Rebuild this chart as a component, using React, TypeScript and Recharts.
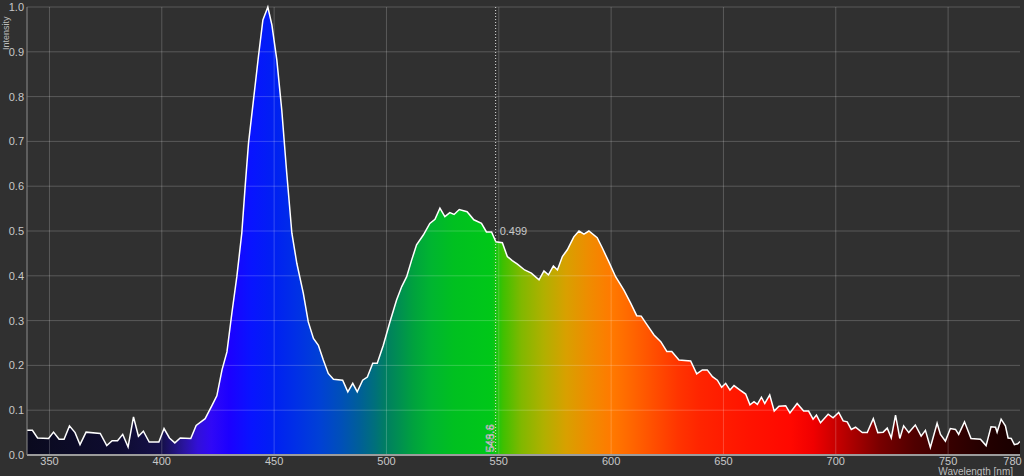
import React from "react";
import { AreaChart, Area, XAxis, YAxis, ReferenceLine, ReferenceDot } from "recharts";

const WAVELENGTHS = [
  340.0, 342.4, 344.7, 349.6, 351.8, 354.3, 356.5, 358.9, 361.4, 363.6, 366.3, 372.6, 375.5, 377.9, 380.3,
  382.6, 385.0, 387.4, 389.6, 391.8, 394.4, 398.7, 401.0, 403.4, 405.8, 408.2, 412.9, 415.3, 419.3, 422.3,
  424.5, 426.8, 429.0, 431.2, 433.4, 435.6, 437.1, 438.6, 440.8, 443.0, 445.0, 447.2, 449.0, 451.2, 453.4,
  455.6, 457.9, 460.1, 463.0, 465.2, 467.5, 469.7, 471.9, 474.1, 476.4, 480.5, 482.8, 485.0, 487.0, 489.4,
  491.5, 493.9, 495.9, 498.6, 501.6, 504.5, 506.8, 509.0, 511.2, 513.4, 516.4, 519.3, 521.6, 523.8, 526.0,
  528.2, 530.1, 532.4, 535.9, 538.9, 542.3, 544.5, 546.8, 548.7, 551.6, 553.8, 556.0, 558.3, 561.5, 564.5,
  567.9, 570.1, 572.1, 574.3, 576.1, 578.3, 580.5, 583.4, 585.7, 587.9, 590.1, 593.8, 596.1, 599.0, 602.0,
  605.7, 608.7, 611.4, 613.4, 616.1, 619.1, 622.1, 624.8, 627.0, 630.2, 635.4, 638.1, 640.6, 642.8, 645.1,
  647.3, 649.2, 651.0, 652.9, 654.7, 657.4, 659.9, 661.8, 663.6, 665.1, 666.9, 668.4, 670.6, 672.6, 674.7,
  677.7, 679.6, 682.8, 685.7, 687.9, 689.9, 691.4, 693.2, 696.6, 698.8, 701.3, 703.3, 705.1, 706.9, 708.8,
  711.8, 714.0, 716.7, 718.7, 721.1, 722.9, 724.7, 726.6, 728.5, 730.2, 732.5, 735.4, 738.0, 739.9, 742.1,
  745.1, 746.6, 748.8, 751.0, 753.3, 754.7, 757.3, 760.2, 764.4, 766.9, 769.1, 771.1, 771.8, 773.6, 775.5,
  776.7, 778.1, 779.5, 781.0, 782.0,
];

const INTENSITY = [
  0.055, 0.055, 0.038, 0.037, 0.051, 0.035, 0.035, 0.065, 0.05, 0.023, 0.051, 0.048, 0.021, 0.032, 0.032,
  0.046, 0.018, 0.085, 0.042, 0.053, 0.029, 0.029, 0.059, 0.038, 0.027, 0.038, 0.037, 0.066, 0.081, 0.11,
  0.132, 0.19, 0.23, 0.317, 0.398, 0.495, 0.599, 0.696, 0.792, 0.889, 0.971, 1.0, 0.96, 0.882, 0.77,
  0.63, 0.495, 0.428, 0.361, 0.297, 0.26, 0.245, 0.212, 0.182, 0.169, 0.167, 0.141, 0.16, 0.141, 0.167,
  0.174, 0.205, 0.205, 0.245, 0.298, 0.346, 0.376, 0.398, 0.435, 0.469, 0.491, 0.517, 0.526, 0.551, 0.532,
  0.541, 0.537, 0.548, 0.543, 0.525, 0.517, 0.498, 0.498, 0.476, 0.474, 0.443, 0.434, 0.426, 0.413, 0.406,
  0.391, 0.411, 0.402, 0.422, 0.413, 0.443, 0.458, 0.487, 0.5, 0.493, 0.5, 0.485, 0.462, 0.431, 0.398,
  0.368, 0.339, 0.311, 0.31, 0.29, 0.268, 0.253, 0.231, 0.231, 0.212, 0.21, 0.181, 0.19, 0.19, 0.175,
  0.167, 0.151, 0.16, 0.145, 0.155, 0.145, 0.136, 0.112, 0.119, 0.113, 0.129, 0.115, 0.134, 0.098, 0.109,
  0.11, 0.094, 0.115, 0.098, 0.098, 0.08, 0.089, 0.072, 0.091, 0.083, 0.095, 0.076, 0.074, 0.057, 0.062,
  0.05, 0.05, 0.081, 0.05, 0.051, 0.06, 0.038, 0.089, 0.037, 0.065, 0.05, 0.067, 0.042, 0.055, 0.017,
  0.071, 0.046, 0.031, 0.059, 0.057, 0.046, 0.074, 0.037, 0.035, 0.021, 0.063, 0.062, 0.051, 0.08, 0.065,
  0.038, 0.037, 0.023, 0.025, 0.03,
];

const X_TICKS = [350, 400, 450, 500, 550, 600, 650, 700, 750, 780];
const X_GRID = [350, 400, 450, 500, 550, 600, 650, 700, 750];
const Y_TICKS = [0, 0.1, 0.2, 0.3, 0.4, 0.5, 0.6, 0.7, 0.8, 0.9, 1.0];
const Y_GRID = [0.1, 0.2, 0.3, 0.4, 0.5, 0.6, 0.7, 0.8, 0.9, 1.0];

const MARKER_NM = 548.6;
const MARKER_VALUE = 0.499;

const X_MIN = 340;
const X_MAX = 782;

const SPECTRUM_STOPS: [number, string][] = [
  [340, "#0a0a1e"], [380, "#0e0c30"], [400, "#15104a"], [410, "#2a14a0"], [416, "#3210d8"],
  [422, "#3008f6"], [430, "#1c00ff"], [440, "#0814ff"], [450, "#0020f2"], [460, "#0030e6"],
  [470, "#0040d6"], [480, "#0050b8"], [488, "#005f98"], [495, "#00707a"], [500, "#007f60"],
  [506, "#009050"], [512, "#00a23e"], [520, "#00b530"], [530, "#00c020"], [547, "#00c818"],
  [552, "#40c000"], [560, "#80b800"], [570, "#b0b000"], [580, "#d8a000"], [590, "#ef8c00"],
  [600, "#ff7a00"], [610, "#ff6400"], [620, "#ff4c00"], [630, "#ff3400"], [640, "#ff2400"],
  [660, "#ff1400"], [680, "#ff0800"], [690, "#f00000"], [700, "#c80000"], [710, "#a00000"],
  [720, "#780000"], [735, "#500000"], [750, "#380000"], [765, "#250000"], [782, "#180000"],
];

const data = WAVELENGTHS.map((nm, i) => ({ nm, v: INTENSITY[i] }));

const FONT = '"Liberation Sans Narrow", "Arial Narrow", "Liberation Sans", Arial, sans-serif';
const GRID = "rgba(255,255,255,0.2)";

const XTick = (props: any) => {
  const { x, y, payload } = props;
  const last = payload.value === X_TICKS[X_TICKS.length - 1];
  return (
    <text
      x={last ? x - 3 : x}
      y={y}
      dy="0.71em"
      textAnchor="middle"
      fill="#c8c8c8"
      fontSize={11}
      fontFamily={FONT}
    >
      {payload.value}
    </text>
  );
};

const MarkerBottomLabel = (props: any) => {
  const vb = props.viewBox || {};
  const x = vb.x - 2;
  const y = vb.y + vb.height - 3;
  return (
    <text
      x={x}
      y={y}
      transform={`rotate(-90 ${x} ${y})`}
      textAnchor="start"
      fontFamily={FONT}
      fontSize={11}
      fill="#2e2e2e"
      stroke="#cfcfcf"
      strokeWidth={0.6}
    >
      {String(MARKER_NM)}
    </text>
  );
};

export default function App() {
  return (
    <div
      style={{
        position: "fixed",
        left: 0,
        top: 0,
        width: 1024,
        height: 476,
        background: "#303030",
        overflow: "hidden",
      }}
    >
      <AreaChart
        width={1024}
        height={476}
        data={data}
        margin={{ top: 7, right: 4, left: 0, bottom: 0 }}
      >
        <defs>
          <linearGradient id="spec" x1="0" y1="0" x2="1" y2="0">
            {SPECTRUM_STOPS.map(([nm, c]) => (
              <stop key={nm} offset={(nm - X_MIN) / (X_MAX - X_MIN)} stopColor={c} />
            ))}
          </linearGradient>
        </defs>
        <XAxis
          dataKey="nm"
          type="number"
          domain={[X_MIN, X_MAX]}
          ticks={X_TICKS}
          allowDataOverflow
          height={21}
          tickSize={0}
          tickMargin={2}
          axisLine={{ stroke: "#9c9c9c", strokeWidth: 2 }}
          tick={<XTick />}
          interval={0}
        />
        <YAxis
          type="number"
          domain={[0, 1]}
          ticks={Y_TICKS}
          width={27}
          tickSize={0}
          tickMargin={3}
          axisLine={{ stroke: "#8c8c8c", strokeWidth: 1 }}
          tick={{ fill: "#c8c8c8", fontSize: 11, fontFamily: FONT }}
          tickFormatter={(v: number) => v.toFixed(1)}
          interval={0}
        />
        <Area
          type="linear"
          dataKey="v"
          stroke="#ffffff"
          strokeWidth={1.5}
          fill="url(#spec)"
          fillOpacity={1}
          isAnimationActive={false}
          dot={false}
          activeDot={false}
        />
        {Y_GRID.map((y) => (
          <ReferenceLine key={`h${y}`} y={y} stroke={GRID} strokeWidth={1} />
        ))}
        {X_GRID.map((x) => (
          <ReferenceLine key={`v${x}`} x={x} stroke={GRID} strokeWidth={1} />
        ))}
        <ReferenceLine
          x={MARKER_NM}
          stroke="#e0e0e0"
          strokeWidth={1}
          strokeDasharray="1 2"
          label={<MarkerBottomLabel />}
        />
        <ReferenceDot
          x={MARKER_NM}
          y={MARKER_VALUE}
          r={0}
          stroke="none"
          label={{
            value: MARKER_VALUE.toFixed(3),
            position: "right",
            offset: 4,
            fill: "#c8c8c8",
            fontSize: 11,
            fontFamily: FONT,
          }}
        />
        <text
          x={6}
          y={50}
          transform="rotate(-90 6 50)"
          fontFamily={FONT}
          fontSize={9}
          fill="#bdbdbd"
          textAnchor="start"
          dominantBaseline="central"
        >
          Intensity
        </text>
        <text
          x={1013}
          y={475}
          fontFamily={FONT}
          fontSize={10}
          fill="#bdbdbd"
          textAnchor="end"
        >
          Wavelength [nm]
        </text>
      </AreaChart>
    </div>
  );
}
